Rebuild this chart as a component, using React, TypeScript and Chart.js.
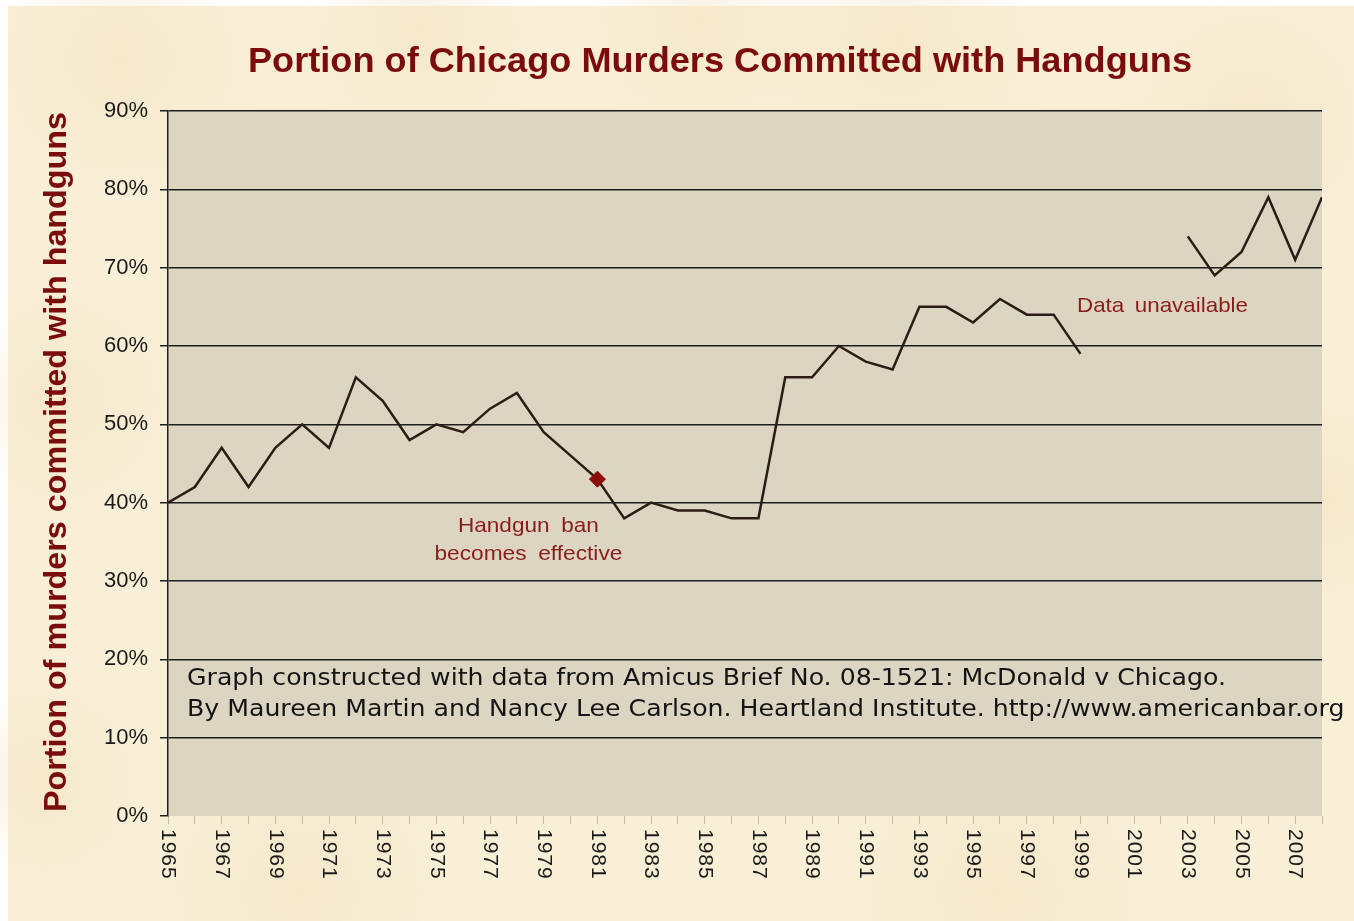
import React, { useEffect, useRef } from "react";
import { Chart, registerables } from "chart.js";

Chart.register(...registerables);

const years: number[] = [
  1965, 1966, 1967, 1968, 1969, 1970, 1971, 1972, 1973, 1974, 1975, 1976, 1977, 1978, 1979,
  1980, 1981, 1982, 1983, 1984, 1985, 1986, 1987, 1988, 1989, 1990, 1991, 1992, 1993, 1994,
  1995, 1996, 1997, 1998, 1999, 2000, 2001, 2002, 2003, 2004, 2005, 2006, 2007, 2008,
];

const handgunShare: (number | null)[] = [
  40, 42, 47, 42, 47, 50, 47, 56, 53, 48, 50, 49, 52, 54, 49,
  46, 43, 38, 40, 39, 39, 38, 38, 56, 56, 60, 58, 57, 65, 65,
  63, 66, 64, 64, 59, null, null, null, 74, 69, 72, 79, 71, 79,
];

const xLabelYears: number[] = [
  1965, 1967, 1969, 1971, 1973, 1975, 1977, 1979, 1981, 1983, 1985, 1987, 1989, 1991, 1993,
  1995, 1997, 1999, 2001, 2003, 2005, 2007,
];

const banYear = 1981;

const titleText = "Portion of Chicago Murders Committed with Handguns";
const yAxisTitle = "Portion of murders committed with handguns";
const banNoteLines = ["Handgun ban", "becomes effective"];
const gapNote = "Data unavailable";
const sourceLines = [
  "Graph constructed with data from Amicus Brief No. 08-1521: McDonald v Chicago.",
  "By Maureen Martin and Nancy Lee Carlson. Heartland Institute. http://www.americanbar.org",
];

const W = 1354;
const H = 921;

function fitText(
  ctx: CanvasRenderingContext2D,
  text: string,
  x: number,
  y: number,
  width: number,
  font: string,
  align: "left" | "center",
  wordSpacing = "0px"
): number {
  ctx.save();
  ctx.font = font;
  (ctx as any).wordSpacing = wordSpacing;
  const w = ctx.measureText(text).width;
  const s = width / w;
  ctx.translate(x, y);
  ctx.scale(s, 1);
  ctx.textAlign = "left";
  ctx.fillText(text, align === "center" ? -w / 2 : 0, 0);
  ctx.restore();
  return s;
}

const decorPlugin = {
  id: "decor",
  beforeDraw(chart: any) {
    const ctx: CanvasRenderingContext2D = chart.ctx;
    const a = chart.chartArea;
    ctx.save();
    ctx.fillStyle = "#ffffff";
    ctx.fillRect(0, 0, W, H);
    ctx.fillStyle = "#f9efd7";
    ctx.fillRect(8, 6, W - 8, H - 6);
    const spots = [
      [120, 60, 140], [420, 30, 120], [900, 40, 150], [1250, 120, 130],
      [60, 400, 120], [1330, 500, 110], [300, 890, 150], [1000, 895, 160],
      [700, 20, 120], [40, 780, 110],
    ];
    for (const [sx, sy, r] of spots) {
      const g = ctx.createRadialGradient(sx, sy, 0, sx, sy, r);
      g.addColorStop(0, "rgba(238,220,180,0.35)");
      g.addColorStop(1, "rgba(238,220,180,0)");
      ctx.fillStyle = g;
      ctx.fillRect(sx - r, sy - r, r * 2, r * 2);
    }
    ctx.fillStyle = "#dcd5c2";
    ctx.fillRect(a.left, a.top, a.right - a.left, a.bottom - a.top);
    ctx.restore();
  },
  afterDraw(chart: any) {
    const ctx: CanvasRenderingContext2D = chart.ctx;
    const xs = chart.scales.x;
    ctx.save();
    // title
    ctx.fillStyle = "#7b0c0c";
    ctx.textBaseline = "alphabetic";
    fitText(ctx, titleText, 720, 72, 944, "bold 35px 'Liberation Sans', Arial, sans-serif", "center");

    // y axis title
    ctx.save();
    ctx.translate(66, 462);
    ctx.rotate(-Math.PI / 2);
    fitText(ctx, yAxisTitle, 0, 0, 700, "bold 31px 'Liberation Sans', Arial, sans-serif", "center");
    ctx.restore();

    // x labels rotated
    ctx.fillStyle = "#1a1a1a";
    for (const yr of xLabelYears) {
      const px = xs.getPixelForValue(yr);
      ctx.save();
      ctx.translate(px, 829);
      ctx.rotate(Math.PI / 2);
      ctx.font = "21px 'Liberation Sans', Arial, sans-serif";
      (ctx as any).letterSpacing = "1px";
      ctx.textAlign = "left";
      ctx.textBaseline = "middle";
      ctx.fillText(String(yr), 0, 0);
      ctx.restore();
    }

    // annotations
    ctx.fillStyle = "#8b1c1c";
    ctx.textBaseline = "middle";
    const banX = xs.getPixelForValue(banYear) - 69;
    fitText(ctx, banNoteLines[0], banX, 526, 141, "21px 'Liberation Sans', Arial, sans-serif", "center", "5px");
    fitText(ctx, banNoteLines[1], banX, 554, 188, "21px 'Liberation Sans', Arial, sans-serif", "center", "5px");
    fitText(ctx, gapNote, 1077, 306, 171, "21px 'Liberation Sans', Arial, sans-serif", "left", "4px");

    // source
    ctx.fillStyle = "#141414";
    const font = "23px 'DejaVu Sans', Verdana, sans-serif";
    const s = fitText(ctx, sourceLines[0], 187, 679, 1039, font, "left");
    ctx.font = font;
    const w2 = ctx.measureText(sourceLines[1]).width;
    fitText(ctx, sourceLines[1], 187, 710, w2 * s, font, "left");
    ctx.restore();
  },
};

export default function App() {
  const ref = useRef<HTMLCanvasElement | null>(null);
  useEffect(() => {
    if (!ref.current) return;
    const banIndex = years.indexOf(banYear);
    const chart = new Chart(ref.current, {
      type: "line",
      data: {
        datasets: [
          {
            data: years.map((yr, i) => ({ x: yr, y: handgunShare[i] })) as any,
            borderColor: "#2b1c15",
            borderWidth: 2.5,
            tension: 0,
            spanGaps: false,
            pointStyle: "rectRot",
            pointRadius: years.map((_, i) => (i === banIndex ? 8 : 0)),
            pointBackgroundColor: "#8b0a0a",
            pointBorderColor: "#8b0a0a",
            pointBorderWidth: 1,
            pointHoverRadius: 0,
          },
        ],
      },
      options: {
        responsive: false,
        animation: false,
        events: [],
        layout: { padding: { left: 0, top: 111, right: 32, bottom: 0 } },
        plugins: {
          legend: { display: false },
          tooltip: { enabled: false },
          title: { display: false },
        },
        scales: {
          x: {
            type: "linear",
            min: 1965,
            max: 2008,
            afterFit: (s: any) => {
              s.height = 105;
            },
            ticks: {
              stepSize: 1,
              autoSkip: false,
              maxRotation: 0,
              callback: () => "",
            },
            grid: {
              drawOnChartArea: false,
              drawTicks: true,
              tickLength: 8,
              color: "#c3baa3",
              lineWidth: 1,
            },
            border: { display: false },
          },
          y: {
            min: 0,
            max: 90,
            afterFit: (s: any) => {
              s.width = 168;
            },
            ticks: {
              stepSize: 10,
              padding: 12,
              color: "#1a1a1a",
              font: { family: "'Liberation Sans', Arial, sans-serif", size: 22 },
              callback: (v: any) => `${v}%`,
            },
            grid: {
              color: (c: any) => (c.tick && c.tick.value === 0 ? "rgba(0,0,0,0)" : "#1e1e1e"),
              tickColor: "#1e1e1e",
              lineWidth: 1.5,
              tickLength: 8,
            },
            border: { display: true, color: "#1e1e1e", width: 1.5 },
          },
        },
      },
      plugins: [decorPlugin],
    });
    return () => chart.destroy();
  }, []);
  return (
    <div style={{ position: "fixed", left: 0, top: 0, width: W, height: H }}>
      <canvas ref={ref} width={W} height={H} style={{ width: W, height: H, display: "block" }} />
    </div>
  );
}
